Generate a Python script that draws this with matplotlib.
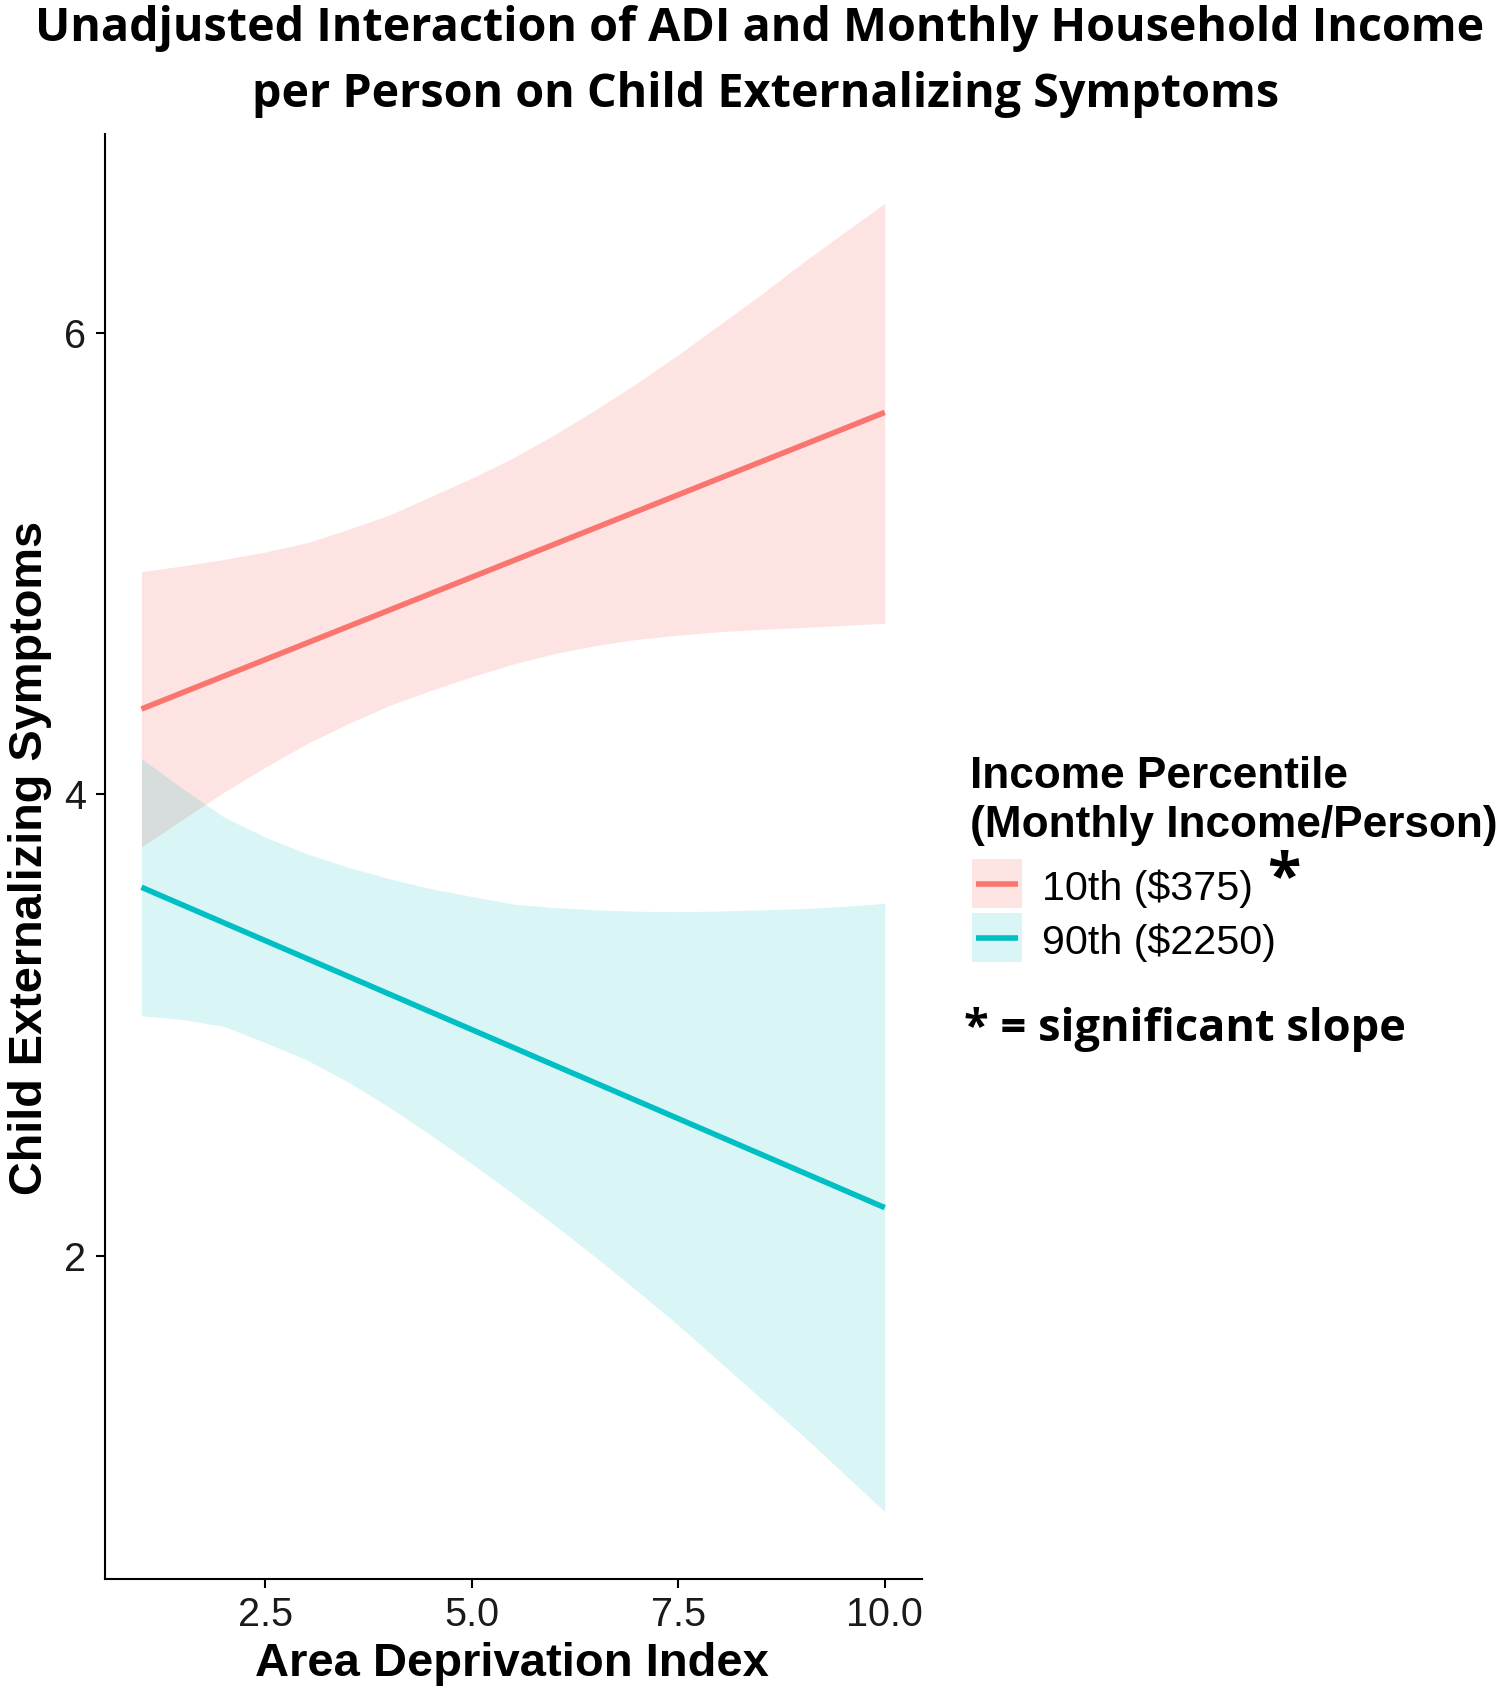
import matplotlib
matplotlib.use("Agg")
import matplotlib.pyplot as plt
from matplotlib.patches import Rectangle
from matplotlib.lines import Line2D

# ---------------- data ----------------
adi = [1, 1.5, 2, 2.5, 3, 3.5, 4, 4.5, 5, 5.5, 6, 6.5, 7, 7.5, 8, 8.5, 9, 9.5, 10]

low_inc_fit_x = [1, 10]
low_inc_fit_y = [4.37, 5.655]
low_inc_upper = [4.965, 4.99, 5.018, 5.05, 5.09, 5.148, 5.21, 5.29, 5.37, 5.458,
                 5.558, 5.667, 5.782, 5.905, 6.035, 6.165, 6.302, 6.432, 6.561]
low_inc_lower = [3.772, 3.892, 4.01, 4.118, 4.219, 4.306, 4.385, 4.45, 4.51, 4.565,
                 4.61, 4.645, 4.672, 4.69, 4.705, 4.715, 4.723, 4.732, 4.742]

high_inc_fit_x = [1, 10]
high_inc_fit_y = [3.598, 2.21]
high_inc_upper = [4.155, 4.025, 3.902, 3.815, 3.743, 3.685, 3.635, 3.592, 3.558, 3.525,
                  3.51, 3.5, 3.494, 3.492, 3.495, 3.5, 3.505, 3.515, 3.528]
high_inc_lower = [3.041, 3.025, 2.995, 2.925, 2.85, 2.755, 2.645, 2.525, 2.40, 2.27,
                  2.135, 1.995, 1.85, 1.701, 1.542, 1.384, 1.225, 1.059, 0.893]

x_ticks = [2.5, 5.0, 7.5, 10.0]
x_ticklabels = ["2.5", "5.0", "7.5", "10.0"]
y_ticks = [2, 4, 6]
y_ticklabels = ["2", "4", "6"]

series_labels = ["10th ($375)", "90th ($2250)"]
legend_title = ["Income Percentile", "(Monthly Income/Person)"]
title_lines = ["Unadjusted Interaction of ADI and Monthly Household Income",
               "per Person on Child Externalizing Symptoms"]
x_label = "Area Deprivation Index"
y_label = "Child Externalizing Symptoms"
note = "* = significant slope"

PINK = "#F8766D"
TEAL = "#00BFC4"

W, H = 1508, 1698
fig = plt.figure(figsize=(W / 100, H / 100), dpi=100)
renderer = fig.canvas.get_renderer()

def fx(px):
    return px / W

def fy(py):
    return 1 - py / H

def fit_text(t, target_w, vertical=False):
    """Scale fontsize so the rendered extent matches target width (px)."""
    for _ in range(3):
        bb = t.get_window_extent(renderer=renderer)
        w = bb.height if vertical else bb.width
        t.set_fontsize(t.get_fontsize() * target_w / w)
    return t

SANS = ["Liberation Sans", "DejaVu Sans"]
TITLE_FONT = ["Open Sans", "DejaVu Sans"]

# ---------------- axes ----------------
ax = fig.add_axes([fx(104.6), fy(1578.6), fx(921.6) - fx(104.6), fy(134) - fy(1578.6)])
ax.fill_between(adi, low_inc_lower, low_inc_upper, color=PINK, alpha=0.2, linewidth=0)
ax.fill_between(adi, high_inc_lower, high_inc_upper, color=TEAL, alpha=0.15, linewidth=0)
ax.plot(low_inc_fit_x, low_inc_fit_y, color=PINK, lw=4.0, solid_capstyle="butt")
ax.plot(high_inc_fit_x, high_inc_fit_y, color=TEAL, lw=4.0, solid_capstyle="butt")

ax.set_xlim(0.554, 10.446)
ax.set_ylim(0.603, 6.861)
ax.set_xticks(x_ticks)
ax.set_xticklabels(x_ticklabels)
ax.set_yticks(y_ticks)
ax.set_yticklabels(y_ticklabels)
for s in ["top", "right"]:
    ax.spines[s].set_visible(False)
for s in ["left", "bottom"]:
    ax.spines[s].set_linewidth(1.5)
    ax.spines[s].set_color("black")
ax.tick_params(axis="both", length=6.5, width=1.5, color="black",
               labelsize=28.5, labelcolor="#1a1a1a")
ax.tick_params(axis="x", pad=6)
ax.tick_params(axis="y", pad=7)
for lab in ax.get_xticklabels() + ax.get_yticklabels():
    lab.set_family(SANS)

# ---------------- titles / labels ----------------
t1 = fig.text(fx(760), fy(28), title_lines[0], ha="center", va="center",
              family=TITLE_FONT, weight="bold", fontsize=30)
fit_text(t1, 1452)
t2 = fig.text(fx(766), fy(95), title_lines[1], ha="center", va="center",
              family=TITLE_FONT, weight="bold", fontsize=t1.get_fontsize())

xl = fig.text(fx(512), fy(1664), x_label, ha="center", va="center",
              family=SANS, weight="bold", fontsize=30)
fit_text(xl, 513)
yl = fig.text(fx(30), fy(858), y_label, ha="center", va="center", rotation=90,
              family=SANS, weight="bold", fontsize=30)
fit_text(yl, 675, vertical=True)

# ---------------- legend (manual, ggplot style) ----------------
lt1 = fig.text(fx(970), fy(776), legend_title[0], ha="left", va="center",
               family=SANS, weight="bold", fontsize=28)
lt2 = fig.text(fx(970), fy(825), legend_title[1], ha="left", va="center",
               family=SANS, weight="bold", fontsize=28)
fit_text(lt2, 528)
lt1.set_fontsize(lt2.get_fontsize())

key_x0, key_x1 = 972, 1022
key_rows = [(859, 908), (913, 962)]
colors = [PINK, TEAL]
alphas = [0.2, 0.15]
label_y = [889, 943]
for (y0, y1), c, a in zip(key_rows, colors, alphas):
    fig.patches.append(Rectangle((fx(key_x0), fy(y1)), fx(key_x1) - fx(key_x0),
                                 fy(y0) - fy(y1), transform=fig.transFigure,
                                 facecolor=c, alpha=a, edgecolor="none"))
    ym = (y0 + y1) / 2
    fig.lines.append(Line2D([fx(key_x0 + 4), fx(key_x1 - 4)], [fy(ym), fy(ym)],
                            transform=fig.transFigure, color=c, lw=4.0,
                            solid_capstyle="butt"))
lab1 = fig.text(fx(1042), fy(label_y[0]), series_labels[0], ha="left", va="center",
                family=SANS, fontsize=26)
fit_text(lab1, 211)
lab2 = fig.text(fx(1042), fy(label_y[1]), series_labels[1], ha="left", va="center",
                family=SANS, fontsize=lab1.get_fontsize())

fig.text(fx(1284), fy(880), "*", ha="center", va="center",
         family=TITLE_FONT, weight="bold", fontsize=44)

nt = fig.text(fx(964), fy(1030), note, ha="left", va="center",
              family=TITLE_FONT, weight="bold", fontsize=30)
fit_text(nt, 442)

fig.savefig("out.png", dpi=100, facecolor="white")
